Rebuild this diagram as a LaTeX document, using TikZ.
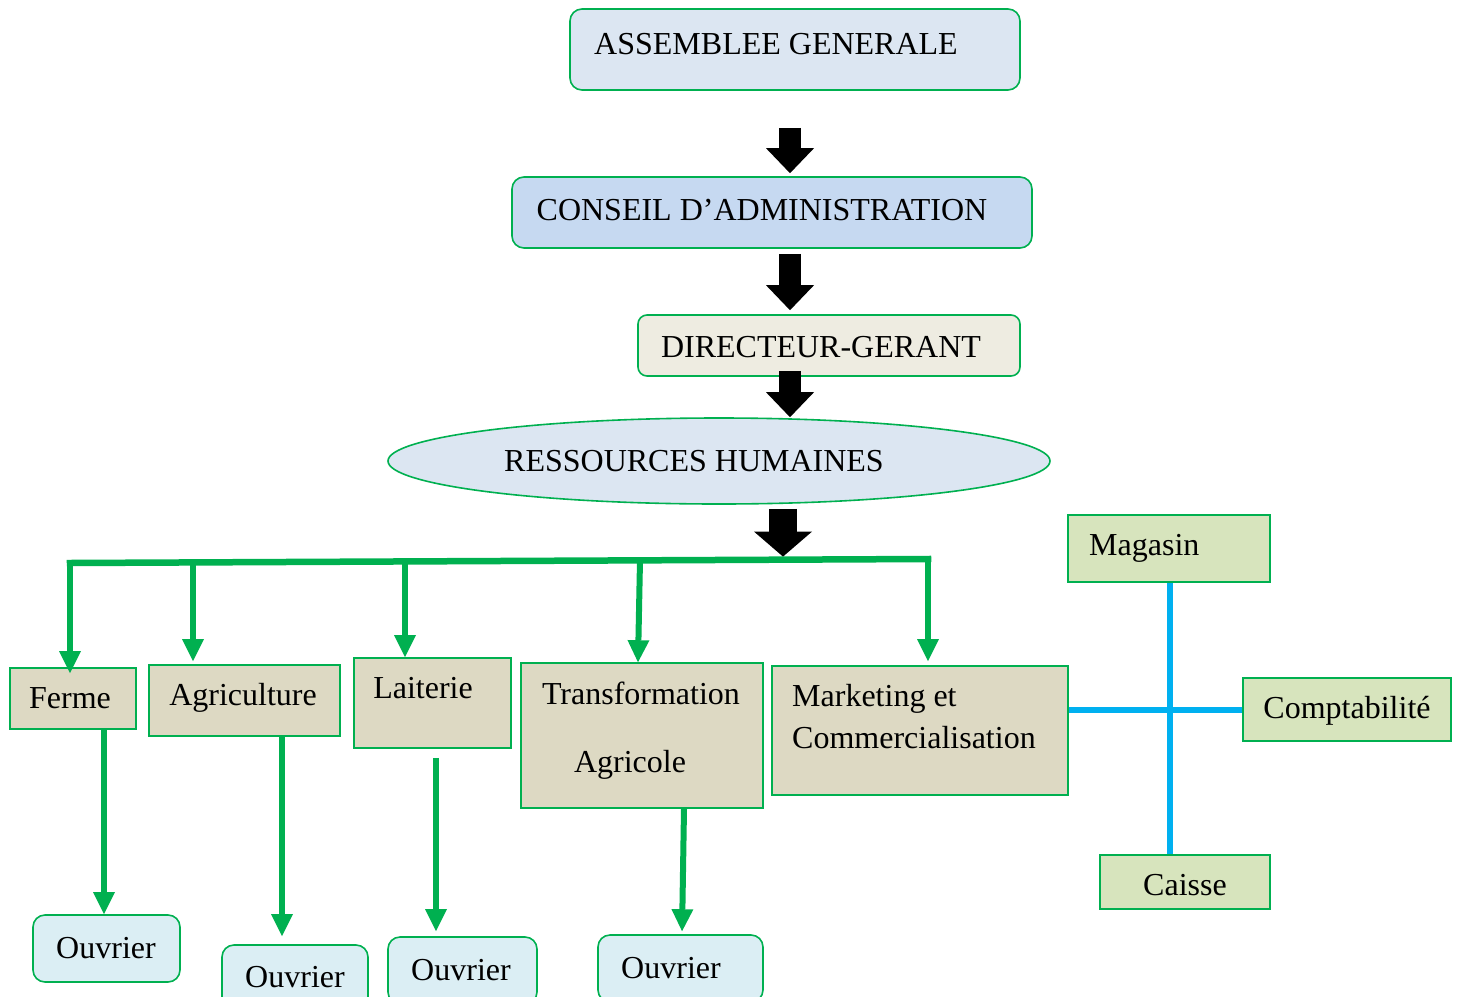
\documentclass[tikz,border=0pt]{standalone}
\usepackage{fontspec}
\setmainfont{Liberation Serif}
\usetikzlibrary{arrows.meta,shapes.geometric}
\definecolor{grn}{RGB}{0,176,80}
\definecolor{cyanline}{RGB}{0,176,240}
\definecolor{agfill}{RGB}{220,230,242}
\definecolor{cafill}{RGB}{198,217,241}
\definecolor{dgfill}{RGB}{238,236,225}
\definecolor{deptfill}{RGB}{221,217,195}
\definecolor{sidefill}{RGB}{215,228,189}
\definecolor{ouvfill}{RGB}{219,238,244}
\tikzset{
    box/.style={draw=grn, line width=1.6pt, inner sep=0pt},
    rbox/.style={box, rounded corners=12pt},
    txt/.style={inner sep=0pt, anchor=base, font=\fontsize{32}{38}\selectfont},
    blk/.style={black, line width=22pt, -{Triangle[width=48pt,length=25pt,line width=0pt]}},
    garrow/.style={color=grn, line width=6pt, -{Triangle[width=22pt,length=22pt,line width=0pt]}},
    bline/.style={color=cyanline, line width=6pt}
}

\begin{document}
\begin{tikzpicture}[x=1pt,y=-1pt]
\clip (0,0) rectangle (1459,996);
\node[rbox, fill=agfill, minimum width=450pt, minimum height=81pt] (AG) at (795,49.5) {};
\node[rbox, fill=cafill, minimum width=520pt, minimum height=71pt] (CA) at (772,212.5) {};
\node[rbox, rounded corners=9pt, fill=dgfill, minimum width=382pt, minimum height=61pt] (DG) at (829,345.5) {};
\node[box, ellipse, fill=agfill, minimum width=662pt, minimum height=86pt] (RH) at (719,461) {};
\node[box, fill=deptfill, minimum width=126pt, minimum height=61pt] (ferme) at (73,698.5) {};
\node[box, fill=deptfill, minimum width=191pt, minimum height=71pt] (agri) at (244.5,700.5) {};
\node[box, fill=deptfill, minimum width=157pt, minimum height=90pt] (lait) at (432.5,703) {};
\node[box, fill=deptfill, minimum width=242pt, minimum height=145pt] (trans) at (642,735.5) {};
\node[box, fill=deptfill, minimum width=296pt, minimum height=129pt] (mkt) at (920,730.5) {};
\node[box, fill=sidefill, minimum width=202pt, minimum height=67pt] (mag) at (1169,548.5) {};
\node[box, fill=sidefill, minimum width=208pt, minimum height=63pt] (compta) at (1347,709.5) {};
\node[box, fill=sidefill, minimum width=170pt, minimum height=54pt] (caisse) at (1185,882) {};
\node[rbox, fill=ouvfill, minimum width=147pt, minimum height=67pt] (o1) at (106.5,948.5) {};
\node[rbox, fill=ouvfill, minimum width=146pt, minimum height=67pt] (o2) at (295,978.5) {};
\node[rbox, fill=ouvfill, minimum width=149pt, minimum height=67pt] (o3) at (462.5,970.5) {};
\node[rbox, fill=ouvfill, minimum width=165pt, minimum height=67pt] (o4) at (680.5,968.5) {};

\node[txt] (tAG) at (776,54) {ASSEMBLEE GENERALE};
\node[txt] (tCA) at (762,220) {CONSEIL D’ADMINISTRATION};
\node[txt] (tDG) at (821,357) {DIRECTEUR-GERANT};
\node[txt] (tRH) at (694,471.5) {RESSOURCES HUMAINES};
\node[txt] (tferme) at (70,708) {Ferme};
\node[txt] (tagri) at (243,705) {Agriculture};
\node[txt] (tlait) at (423,698) {Laiterie};
\node[txt] (ttrans) at (641,704) {Transformation};
\node[txt] (tagric) at (630,772) {Agricole};
\node[txt, anchor=base west] (tmkt) at (792,706) {Marketing et};
\node[txt, anchor=base west] (tcomm) at (792,748) {Commercialisation};
\node[txt, anchor=base west] (tmag) at (1089,555) {Magasin};
\node[txt] (tcompta) at (1347,718) {Comptabilité};
\node[txt] (tcaisse) at (1185,895) {Caisse};
\node[txt] (to1) at (106,958) {Ouvrier};
\node[txt] (to2) at (295,987) {Ouvrier};
\node[txt] (to3) at (461,980) {Ouvrier};
\node[txt] (to4) at (671,978) {Ouvrier};

\draw[blk, shorten <=37pt, shorten >=3pt] (AG.south -| 790,0) -- (CA.north -| 790,0);
\draw[blk, shorten <=5pt, shorten >=4pt] (CA.south -| 790,0) -- (DG.north -| 790,0);
\draw[blk, shorten <=-6pt] (DG.south -| 790,0) -- (RH.north -| 790,0);

\coordinate (b1) at (70,563);
\coordinate (b2) at (193,562.4);
\coordinate (b3) at (405,561.4);
\coordinate (b4) at (640,560.3);
\coordinate (bm) at (783,559.6);
\coordinate (b5) at (928,559);
\draw[color=grn, line width=6.5pt, line cap=rect] (b1) -- (b5);
\draw[blk, line width=28pt, -{Triangle[width=58pt,length=25pt,line width=0pt]}, shorten <=4pt, shorten >=3pt] (RH.south -| bm) -- (bm);

\draw[garrow, shorten >=-6pt] (b1) -- (b1 |- ferme.north);
\draw[garrow, shorten >=3pt] (b2) -- (b2 |- agri.north);
\draw[garrow] (b3) -- (b3 |- lait.north);
\draw[garrow] (b4) -- ([xshift=-4pt]trans.north);
\draw[garrow, shorten >=4pt] (b5) -- (b5 |- mkt.north);

\draw[garrow] (ferme.south -| 104,0) -- (104,0 |- o1.north);
\draw[garrow, shorten >=8pt] (agri.south -| 282,0) -- (282,0 |- o2.north);
\draw[garrow, shorten <=9pt, shorten >=5pt] (lait.south -| 436,0) -- (436,0 |- o3.north);
\draw[garrow, shorten >=3pt] (trans.south -| 684,0) -- (682,0 |- o4.north);

\draw[bline] (mag.south -| 1170,0) -- (1170,0 |- caisse.north);
\draw[bline] (mkt.east |- compta.west) -- (compta.west);
\end{tikzpicture}
\end{document}
